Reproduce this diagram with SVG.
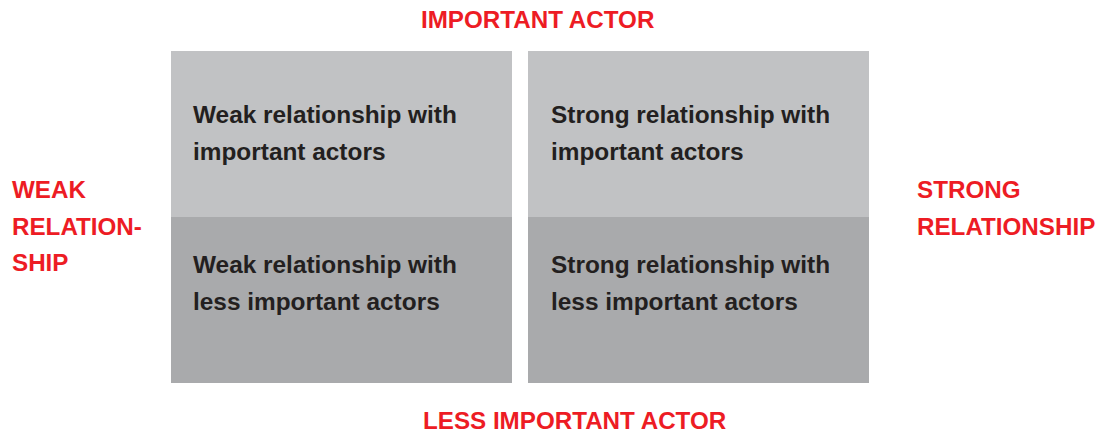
<svg xmlns="http://www.w3.org/2000/svg" width="1109" height="432" viewBox="0 0 1109 432">
<style>
.lt{fill:#c1c2c4}
.dk{fill:#a9aaac}
.bt{font-family:"Liberation Sans",Arial,sans-serif;font-weight:bold;font-size:24.4px;fill:#231f20}
.rd{font-family:"Liberation Sans",Arial,sans-serif;font-weight:bold;font-size:24.2px;fill:#ed1c24}
</style>
<rect width="1109" height="432" fill="#ffffff"/>
<g id="q-weak-important">
<rect class="lt" x="171" y="51" width="341" height="166"/>
<text class="bt" x="193" y="123">Weak relationship with</text>
<text class="bt" x="193" y="160">important actors</text>
</g>
<g id="q-strong-important">
<rect class="lt" x="528" y="51" width="341" height="166"/>
<text class="bt" x="551" y="123">Strong relationship with</text>
<text class="bt" x="551" y="160">important actors</text>
</g>
<g id="q-weak-less">
<rect class="dk" x="171" y="217" width="341" height="166"/>
<text class="bt" x="193" y="273">Weak relationship with</text>
<text class="bt" x="193" y="310">less important actors</text>
</g>
<g id="q-strong-less">
<rect class="dk" x="528" y="217" width="341" height="166"/>
<text class="bt" x="551" y="273">Strong relationship with</text>
<text class="bt" x="551" y="310">less important actors</text>
</g>
<g id="axis-labels">
<text class="rd" x="421" y="28">IMPORTANT ACTOR</text>
<text class="rd" x="423" y="429">LESS IMPORTANT ACTOR</text>
<text class="rd" x="12" y="198">WEAK</text>
<text class="rd" x="12" y="235">RELATION-</text>
<text class="rd" x="12" y="271">SHIP</text>
<text class="rd" x="917" y="198">STRONG</text>
<text class="rd" x="917" y="235">RELATIONSHIP</text>
</g>
<g id="connectors"></g>
</svg>
